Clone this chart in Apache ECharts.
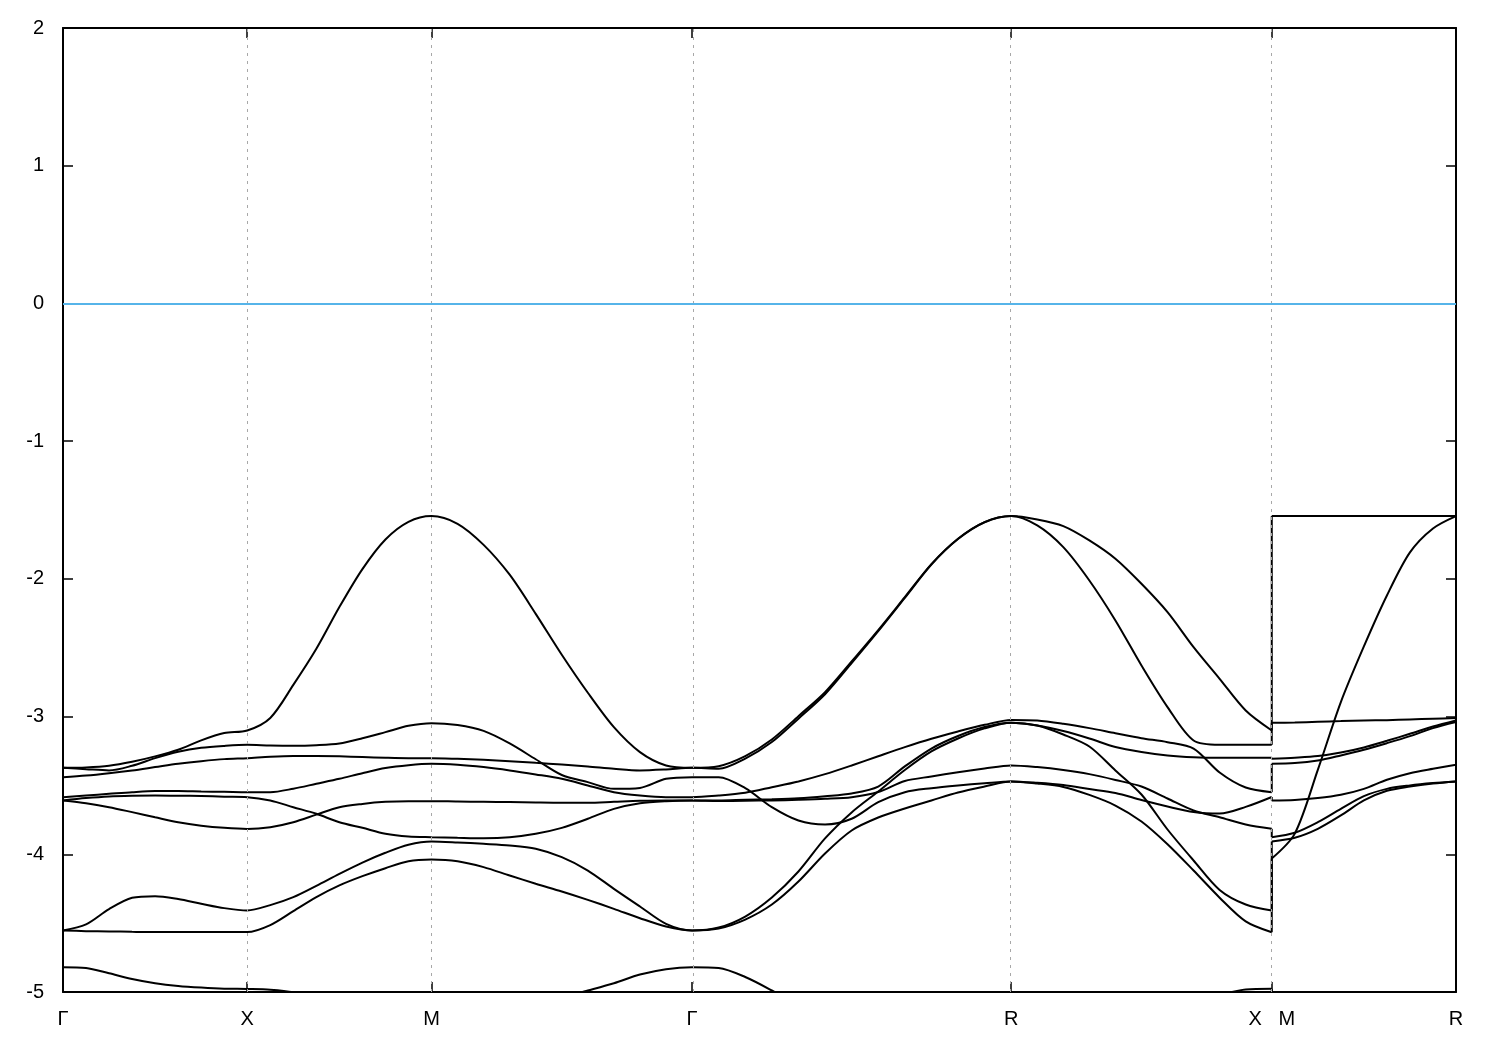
<!DOCTYPE html>
<html>
<head>
<meta charset="utf-8">
<script src="https://cdn.jsdelivr.net/npm/echarts@6/dist/echarts.min.js"></script>
<style>
html,body{margin:0;padding:0;background:#fff}
#c{width:1500px;height:1050px}
</style>
</head>
<body>
<div id="c"></div>
<script>
// High-symmetry path: segment lengths (2π/a units) and label names
const segLengths = [0.5, 0.5, 0.7071, 0.8660, 0.7071, 0.5];
const segSteps   = [8, 8, 10, 12, 10, 8];
const tickLabels = ['Γ', 'X', 'M', 'Γ', 'R', 'X   M', 'R'];
const yTicks = [2, 1, 0, -1, -2, -3, -4, -5];
const fermiLevel = [0];

// Band energies (eV), read along Γ-X | X-M | M-Γ | Γ-R | R-X | M-R
const band1 = [
  -3.372, -3.369, -3.357, -3.328, -3.289, -3.241, -3.173, -3.120, -3.101,
  -3.010, -2.770, -2.508, -2.205, -1.929, -1.714, -1.586, -1.544,
  -1.600, -1.753, -1.970, -2.254, -2.551, -2.827, -3.077, -3.258, -3.355, -3.372,
  -3.360, -3.287, -3.166, -2.997, -2.823, -2.600, -2.372, -2.133, -1.893, -1.709, -1.588, -1.544,
  -1.569, -1.617, -1.721, -1.854, -2.036, -2.242, -2.496, -2.726, -2.956, -3.101,
  -1.544, -1.544, -1.544, -1.544, -1.544, -1.544, -1.544, -1.544, -1.544
];
const band2 = [
  -3.372, -3.382, -3.391, -3.357, -3.302, -3.256, -3.227, -3.213, -3.205,
  -3.210, -3.212, -3.208, -3.196, -3.158, -3.113, -3.067, -3.048,
  -3.062, -3.104, -3.195, -3.310, -3.424, -3.476, -3.525, -3.518, -3.452, -3.440,
  -3.440, -3.520, -3.658, -3.755, -3.784, -3.742, -3.622, -3.549, -3.520, -3.500, -3.484, -3.471,
  -3.481, -3.497, -3.526, -3.555, -3.606, -3.653, -3.693, -3.704, -3.656, -3.584,
  -3.609, -3.605, -3.592, -3.568, -3.525, -3.459, -3.411, -3.379, -3.350
];
const band3 = [
  -3.440, -3.428, -3.411, -3.391, -3.367, -3.343, -3.324, -3.309, -3.302,
  -3.292, -3.287, -3.287, -3.289, -3.294, -3.299, -3.302, -3.302,
  -3.307, -3.314, -3.324, -3.336, -3.348, -3.362, -3.379, -3.391, -3.384, -3.372,
  -3.378, -3.305, -3.185, -3.015, -2.838, -2.612, -2.380, -2.138, -1.896, -1.711, -1.589, -1.544,
  -1.612, -1.770, -2.012, -2.302, -2.629, -2.931, -3.174, -3.205, -3.205, -3.205,
  -3.045, -3.043, -3.038, -3.033, -3.028, -3.026, -3.021, -3.016, -3.011
];
const band4 = [
  -3.585, -3.573, -3.561, -3.549, -3.541, -3.541, -3.544, -3.546, -3.549,
  -3.549, -3.524, -3.488, -3.452, -3.411, -3.374, -3.353, -3.343,
  -3.350, -3.367, -3.391, -3.420, -3.452, -3.500, -3.549, -3.573, -3.585, -3.585,
  -3.573, -3.553, -3.513, -3.471, -3.418, -3.355, -3.288, -3.222, -3.161, -3.108, -3.060, -3.024,
  -3.028, -3.052, -3.084, -3.121, -3.157, -3.186, -3.232, -3.406, -3.515, -3.549,
  -3.343, -3.338, -3.319, -3.282, -3.241, -3.193, -3.142, -3.084, -3.040
];
const band5 = [
  -3.609, -3.592, -3.580, -3.575, -3.573, -3.575, -3.577, -3.582, -3.585,
  -3.609, -3.658, -3.706, -3.767, -3.808, -3.851, -3.871, -3.876,
  -3.880, -3.883, -3.876, -3.851, -3.808, -3.742, -3.670, -3.629, -3.614, -3.609,
  -3.609, -3.604, -3.600, -3.593, -3.578, -3.558, -3.508, -3.362, -3.232, -3.141, -3.076, -3.045,
  -3.065, -3.105, -3.159, -3.221, -3.257, -3.282, -3.295, -3.299, -3.299, -3.299,
  -3.307, -3.299, -3.287, -3.261, -3.224, -3.176, -3.125, -3.072, -3.028
];
const band6 = [
  -3.609, -3.629, -3.658, -3.694, -3.731, -3.767, -3.792, -3.808, -3.816,
  -3.803, -3.767, -3.712, -3.658, -3.634, -3.619, -3.614, -3.614,
  -3.617, -3.619, -3.621, -3.624, -3.626, -3.626, -3.619, -3.612, -3.609, -3.609,
  -3.613, -3.611, -3.609, -3.604, -3.597, -3.585, -3.548, -3.468, -3.435, -3.404, -3.377, -3.355,
  -3.367, -3.388, -3.418, -3.460, -3.508, -3.595, -3.682, -3.731, -3.784, -3.815,
  -3.876, -3.844, -3.767, -3.670, -3.578, -3.525, -3.500, -3.483, -3.471
];
const band7 = [
  -4.553, -4.509, -4.398, -4.316, -4.304, -4.325, -4.359, -4.391, -4.408,
  -4.369, -4.311, -4.229, -4.142, -4.060, -3.989, -3.931, -3.907,
  -3.914, -3.924, -3.936, -3.960, -4.021, -4.118, -4.251, -4.379, -4.505, -4.553,
  -4.532, -4.452, -4.314, -4.125, -3.885, -3.696, -3.544, -3.388, -3.253, -3.159, -3.086, -3.045,
  -3.065, -3.130, -3.217, -3.391, -3.566, -3.820, -4.045, -4.259, -4.365, -4.408,
  -3.907, -3.880, -3.815, -3.718, -3.609, -3.539, -3.508, -3.486, -3.471
];
const band8 = [
  -4.553, -4.558, -4.560, -4.563, -4.565, -4.565, -4.565, -4.565, -4.565,
  -4.514, -4.413, -4.311, -4.226, -4.159, -4.101, -4.050, -4.038,
  -4.050, -4.093, -4.154, -4.214, -4.270, -4.331, -4.396, -4.464, -4.524, -4.553,
  -4.539, -4.474, -4.365, -4.198, -3.994, -3.827, -3.733, -3.667, -3.609, -3.551, -3.508, -3.471,
  -3.486, -3.511, -3.569, -3.646, -3.762, -3.927, -4.118, -4.315, -4.487, -4.566,
  -4.031, -3.850, -3.387, -2.895, -2.491, -2.121, -1.808, -1.634, -1.544
];
const band9 = [
  -4.820, -4.825, -4.864, -4.905, -4.936, -4.956, -4.968, -4.976, -4.978,
  -4.983, -5.002, -5.05, -5.12, -5.20, -5.27, -5.32, -5.35,
  -5.33, -5.27, -5.19, -5.11, -5.04, -4.989, -4.936, -4.873, -4.834, -4.820,
  -4.826, -4.891, -4.989, -5.10, -5.20, -5.30, -5.40, -5.48, -5.55, -5.60, -5.62, -5.63,
  -5.60, -5.52, -5.42, -5.30, -5.20, -5.12, -5.06, -5.02, -4.982, -4.977,
  -5.35, -5.38, -5.42, -5.46, -5.50, -5.54, -5.58, -5.61, -5.63
];
const bands = [band1, band2, band3, band4, band5, band6, band7, band8, band9];

// node positions along the path (cumulative lengths)
const nodeK = [0];
segLengths.forEach((L, i) => nodeK.push(+(nodeK[i] + L).toFixed(4)));

// sample positions: the last segment (M-R) restarts at the X|M node (jump)
const kPoints = [];
segLengths.forEach((L, s) => {
  const start = nodeK[s];
  const first = (s === 0 || s === segLengths.length - 1) ? 0 : 1;
  for (let i = first; i <= segSteps[s]; i++) kPoints.push(start + L * i / segSteps[s]);
});
const kEnd = nodeK[nodeK.length - 1];
const nLast = segSteps[segSteps.length - 1] + 1;      // points in the M-R part
const nMain = kPoints.length - nLast;                  // points Γ ... X

const FONT = 'Liberation Sans, Arial, Helvetica, sans-serif';
function labelFor(v) {
  for (let i = 0; i < nodeK.length; i++) if (Math.abs(nodeK[i] - v) < 1e-6) return tickLabels[i];
  return '';
}

const chart = echarts.init(document.getElementById('c'), null, {renderer: 'canvas'});

const baseX = {
  type: 'value', min: 0, max: kEnd,
  axisLine: {show: true, onZero: false, lineStyle: {color: '#000', width: 2}},
  axisTick: {show: true, inside: true, length: 10, customValues: nodeK, lineStyle: {color: '#000', width: 1.5}},
  splitLine: {show: false}
};
const baseY = {
  type: 'value', min: -5, max: 2, interval: 1,
  axisLine: {show: true, onZero: false, lineStyle: {color: '#000', width: 2}},
  axisTick: {show: true, inside: true, length: 10, lineStyle: {color: '#000', width: 1.5}},
  splitLine: {show: false}
};

const series = [{
  type: 'line', data: [], silent: true, z: 1,
  markLine: {
    silent: true, symbol: ['none', 'none'], label: {show: false}, animation: false,
    data: nodeK.slice(1, nodeK.length - 1).map(v => ({
      xAxis: v, lineStyle: {color: '#a8a8a8', width: 1, type: [3, 5]}
    })).concat(fermiLevel.map(e => ({
      yAxis: e, lineStyle: {color: '#56b4e9', width: 2, type: 'solid'}
    })))
  }
}];
const lineCommon = {
  type: 'line', z: 3, showSymbol: false, symbol: 'none', silent: true, clip: true,
  lineStyle: {color: '#000', width: 2}, emphasis: {disabled: true}
};
bands.forEach((b, i) => {
  const pts = kPoints.map((k, j) => [k, b[j]]);
  const main = pts.slice(0, nMain);
  const tail = pts.slice(nMain);
  series.push(Object.assign({}, lineCommon, {name: 'band' + (i + 1), data: main, smooth: 0.3}));
  series.push(Object.assign({}, lineCommon, {name: 'band' + (i + 1) + 'jump', data: [main[main.length - 1], tail[0]], smooth: false}));
  series.push(Object.assign({}, lineCommon, {name: 'band' + (i + 1) + 'MR', data: tail, smooth: 0.3}));
});

chart.setOption({
  animation: false,
  backgroundColor: '#fff',
  grid: {left: 63, right: 44, top: 28, bottom: 58, containLabel: false},
  xAxis: [
    Object.assign({}, baseX, {position: 'bottom',
      axisLabel: {show: true, customValues: nodeK, formatter: v => labelFor(v), margin: 17,
        color: '#000', fontSize: 20, fontFamily: FONT, showMinLabel: true, showMaxLabel: true}}),
    Object.assign({}, baseX, {position: 'top', axisLabel: {show: false}})
  ],
  yAxis: [
    Object.assign({}, baseY, {position: 'left',
      axisLabel: {show: true, margin: 19, color: '#000', fontSize: 20, fontFamily: FONT,
        customValues: yTicks, formatter: v => String(v)}}),
    Object.assign({}, baseY, {position: 'right', axisLabel: {show: false}})
  ],
  series: series
});
</script>
</body>
</html>
